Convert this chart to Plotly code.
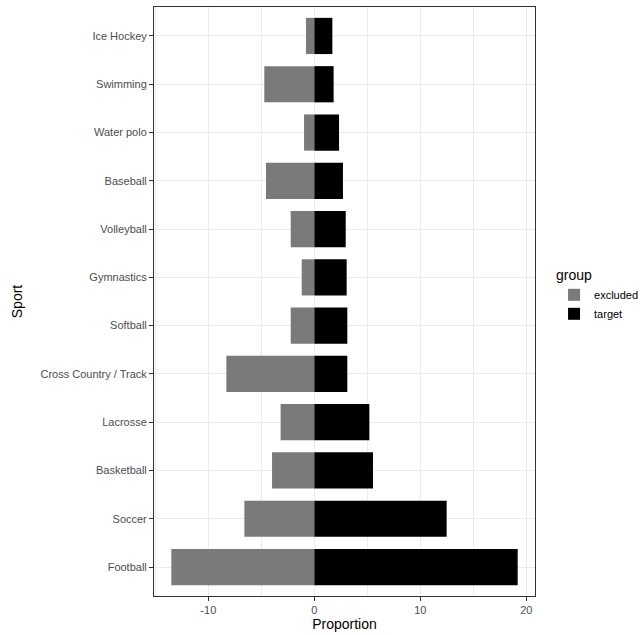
import plotly.graph_objects as go

sports = ["Ice Hockey", "Swimming", "Water polo", "Baseball", "Volleyball", "Gymnastics",
          "Softball", "Cross Country / Track", "Lacrosse", "Basketball", "Soccer", "Football"]
excluded = [-0.79, -4.72, -0.97, -4.56, -2.23, -1.19, -2.23, -8.30, -3.18, -3.99, -6.60, -13.49]
target = [1.70, 1.82, 2.33, 2.70, 2.96, 3.05, 3.11, 3.11, 5.19, 5.53, 12.48, 19.18]
x_ticks = [-10, 0, 10, 20]
x_tick_labels = ["-10", "0", "10", "20"]

fig = go.Figure()
fig.add_trace(go.Bar(y=sports, x=excluded, orientation="h", name="excluded",
                     marker=dict(color="#7a7a7a", line=dict(width=0))))
fig.add_trace(go.Bar(y=sports, x=target, orientation="h", name="target",
                     marker=dict(color="#000000", line=dict(width=0))))

lo, hi = min(excluded), max(target)
pad = 0.05 * (hi - lo)

fig.update_layout(
    width=640, height=635,
    barmode="relative", bargap=0.25,
    paper_bgcolor="white", plot_bgcolor="white",
    margin=dict(l=154, r=105, t=7, b=39, autoexpand=False),
    font=dict(family="Liberation Sans, Arial, sans-serif", color="#4d4d4d", size=11),
    legend=dict(title=dict(text="group", font=dict(size=14, color="#000000")),
                x=1.05, xanchor="left", y=0.51, yanchor="middle",
                font=dict(size=11, color="#000000"), tracegroupgap=0,
                bgcolor="rgba(0,0,0,0)"),
    xaxis=dict(range=[lo - pad, hi + pad], tickvals=x_ticks, ticktext=x_tick_labels,
               automargin=False,
               showgrid=True, gridcolor="#ebebeb", gridwidth=1,
               minor=dict(tickvals=[-15, -5, 5, 15], showgrid=True, gridcolor="#ebebeb", gridwidth=0.6),
               zeroline=False, ticks="outside", ticklen=4, tickcolor="#333333",
               showline=True, linecolor="#333333", linewidth=1, mirror=True,
               title=dict(text="Proportion", font=dict(size=14, color="#000000"), standoff=0),
               tickfont=dict(size=11, color="#4d4d4d")),
    yaxis=dict(type="category", categoryorder="array", categoryarray=sports,
               range=[len(sports) - 0.4, -0.6], automargin=False,
               showgrid=True, gridcolor="#ebebeb", gridwidth=1,
               zeroline=False, ticks="outside", ticklen=4, tickcolor="#333333",
               showline=True, linecolor="#333333", linewidth=1, mirror=True,
               title=dict(text="Sport", font=dict(size=14, color="#000000"), standoff=14),
               tickfont=dict(size=11, color="#4d4d4d")),
)

fig.write_html("out.html", config={"displayModeBar": False},
               post_script="document.body.style.margin='0';")
